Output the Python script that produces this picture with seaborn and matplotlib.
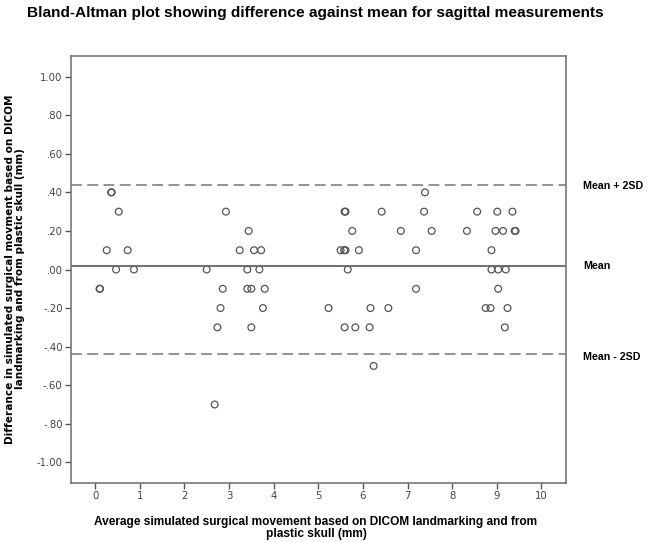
import numpy as np
import pandas as pd
import seaborn as sns
import matplotlib.pyplot as plt

# average of the two measurements (mm)
avg_mm = [0.36, 0.37, 0.53, 0.26, 0.73, 0.47, 0.87, 0.10, 0.11,
          2.50, 2.86, 2.81, 2.74, 2.68, 2.93, 3.24, 3.44, 3.56, 3.72,
          3.41, 3.68, 3.41, 3.50, 3.80, 3.76, 3.50,
          5.23, 5.59, 5.61, 6.42, 5.76, 6.85, 5.50, 5.58, 5.61, 5.91,
          5.66, 6.17, 6.57, 5.59, 5.83, 6.15, 6.24,
          7.39, 7.37, 7.54, 7.19, 7.19,
          8.56, 9.01, 9.35, 8.33, 8.97, 9.14, 9.40, 9.42, 8.88, 8.88,
          9.03, 9.20, 9.03, 8.75, 8.86, 9.24, 9.18]
# difference between the two measurements (mm)
diff_mm = [0.4, 0.4, 0.3, 0.1, 0.1, 0.0, 0.0, -0.1, -0.1,
           0.0, -0.1, -0.2, -0.3, -0.7, 0.3, 0.1, 0.2, 0.1, 0.1,
           0.0, 0.0, -0.1, -0.1, -0.1, -0.2, -0.3,
           -0.2, 0.3, 0.3, 0.3, 0.2, 0.2, 0.1, 0.1, 0.1, 0.1,
           0.0, -0.2, -0.2, -0.3, -0.3, -0.3, -0.5,
           0.4, 0.3, 0.2, 0.1, -0.1,
           0.3, 0.3, 0.3, 0.2, 0.2, 0.2, 0.2, 0.2, 0.1, 0.0,
           0.0, 0.0, -0.1, -0.2, -0.2, -0.2, -0.3]

mean_diff = 0.02
upper_lim = 0.44
lower_lim = -0.44

d = pd.DataFrame({"avg": avg_mm, "diff": diff_mm})

sns.set_style("white")
plt.rcParams['font.family'] = ['Liberation Sans', 'DejaVu Sans']
plt.rcParams['text.color'] = 'black'

fig = plt.figure(figsize=(6.51, 5.42), dpi=100)
ax = fig.add_axes([71/651, 1-483/542, 495/651, 427/542])

sns.scatterplot(data=d, x="avg", y="diff", ax=ax, marker="o", s=24,
                facecolor="none", edgecolor="#555555", linewidth=0.9)

ax.axhline(mean_diff, color="#666666", lw=1.3)
ax.axhline(upper_lim, color="#8a8a8a", lw=1.3, ls=(0, (6, 3)))
ax.axhline(lower_lim, color="#8a8a8a", lw=1.3, ls=(0, (6, 3)))

ax.set_xlim(-0.54, 10.55)
ax.set_ylim(-1.107, 1.107)
ax.set_xticks(range(0, 11))
yt = np.round(np.arange(-1.0, 1.01, 0.2), 2)
ax.set_yticks(yt)
ylabs = []
for v in yt:
    s = "%.2f" % v
    s = s.replace("0.", ".") if abs(v) < 1 else s
    if s == "-.00":
        s = ".00"
    ylabs.append(s)
ax.set_yticklabels(ylabs)
ax.tick_params(axis="both", direction="out", length=4, width=1, color="#555555",
               labelsize=7.3, labelcolor="#444444", left=True, bottom=True, pad=2)
for lab in ax.get_xticklabels() + ax.get_yticklabels():
    lab.set_family("DejaVu Sans")
for sp in ax.spines.values():
    sp.set_color("#777777")
    sp.set_linewidth(1.2)

ax.set_xlabel("")
ax.set_ylabel("")

fig.text(27/651, 1-12.5/542,
         "Bland-Altman plot showing difference against mean for sagittal measurements",
         ha="left", va="center", fontsize=11.1, fontweight="bold")
fig.text(316/651, 1-528/542,
         "Average simulated surgical movement based on DICOM landmarking and from\nplastic skull (mm)",
         ha="center", va="center", fontsize=8.6, fontweight="bold", linespacing=1.1)
fig.text(15/651, 1-269/542,
         "Differance in simulated surgical movment based on DICOM\nlandmarking and from plastic skull (mm)",
         ha="center", va="center", rotation=90, fontsize=7.6, fontweight="bold",
         family="DejaVu Sans", linespacing=1.1)

fig.text(583/651, 1-186/542, "Mean + 2SD", ha="left", va="center", fontsize=7.7, fontweight="bold")
fig.text(583/651, 1-266/542, "Mean", ha="left", va="center", fontsize=7.7, fontweight="bold")
fig.text(583/651, 1-357/542, "Mean - 2SD", ha="left", va="center", fontsize=7.7, fontweight="bold")

fig.savefig("out.png", dpi=100)
